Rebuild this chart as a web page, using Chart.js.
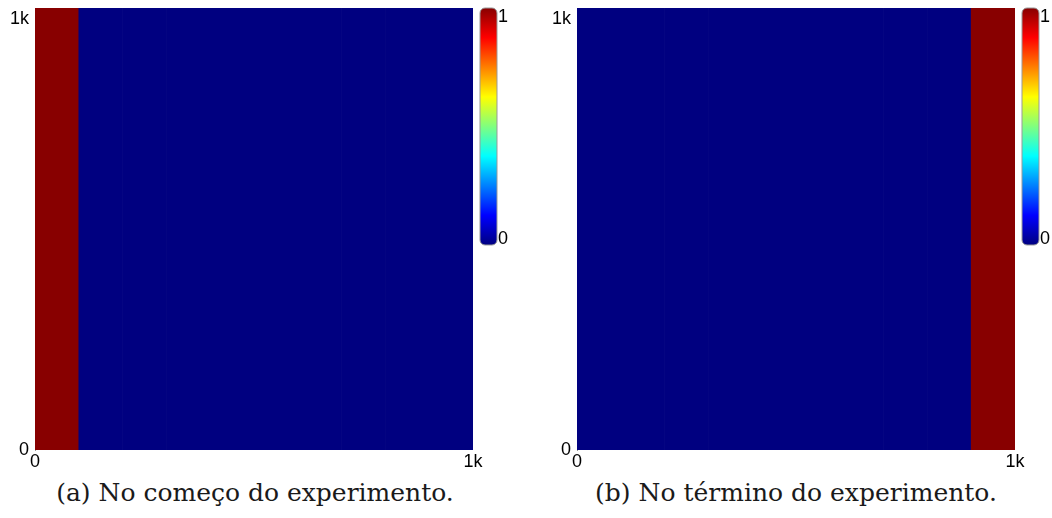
<!DOCTYPE html>
<html>
<head>
<meta charset="utf-8">
<script src="https://cdn.jsdelivr.net/npm/chart.js@4.4.1/dist/chart.umd.min.js"></script>
<style>
  body { margin: 0; background: #fff; width: 1052px; height: 518px; position: relative; overflow: hidden; }
  .panel { position: absolute; top: 0; width: 526px; height: 475px; }
  .caption { position: absolute; top: 476px; width: 526px; text-align: center;
             font-family: "DejaVu Serif", serif; font-size: 25px; line-height: 33px; color: #1a1a1a; }
</style>
</head>
<body>
<div class="panel" style="left:0"><canvas id="startChart" width="526" height="475"></canvas></div>
<div class="panel" style="left:542px"><canvas id="endChart" width="526" height="475"></canvas></div>
<div class="caption" style="left:-8px">(a) No começo do experimento.</div>
<div class="caption" style="left:533px">(b) No término do experimento.</div>
<script>
// grid columns (center of each 100-wide column) and their values
const columnCenters = [50, 150, 250, 350, 450, 550, 650, 750, 850, 950];
const startValues = [1, 0, 0, 0, 0, 0, 0, 0, 0, 0];
const endValues   = [0, 0, 0, 0, 0, 0, 0, 0, 0, 1];
const axisTicks = [0, 1000];
const axisTickLabels = ['0', '1k'];
const colorbarTicks = [0, 1];

// jet colormap
const jetStops = [
  [0.0,   [0, 0, 128]],
  [0.125, [0, 0, 255]],
  [0.375, [0, 255, 255]],
  [0.625, [255, 255, 0]],
  [0.875, [255, 0, 0]],
  [1.0,   [136, 0, 0]]
];
function jet(v) {
  for (let i = 1; i < jetStops.length; i++) {
    if (v <= jetStops[i][0]) {
      const a = jetStops[i - 1], b = jetStops[i];
      const t = (v - a[0]) / (b[0] - a[0]);
      const c = a[1].map((x, k) => Math.round(x + (b[1][k] - x) * t));
      return 'rgb(' + c.join(',') + ')';
    }
  }
  return 'rgb(136,0,0)';
}

const tickFont = { family: 'Liberation Sans', size: 18 };

// colorbar to the right of the plot area
const colorbarPlugin = {
  id: 'colorbar',
  afterDraw(chart) {
    const ctx = chart.ctx, area = chart.chartArea;
    const x = area.right + 7, w = 17, top = area.top, h = 237;
    const grad = ctx.createLinearGradient(0, top + h, 0, top);
    jetStops.forEach(s => grad.addColorStop(s[0], jet(s[0])));
    ctx.save();
    ctx.beginPath();
    ctx.roundRect(x, top, w, h, 5);
    ctx.fillStyle = grad;
    ctx.fill();
    ctx.strokeStyle = '#999';
    ctx.lineWidth = 1;
    ctx.stroke();
    ctx.fillStyle = '#000';
    ctx.font = '18px "Liberation Sans"';
    ctx.textAlign = 'left';
    ctx.textBaseline = 'top';
    ctx.fillText(String(colorbarTicks[1]), x + w + 1, top);
    ctx.textBaseline = 'bottom';
    ctx.fillText(String(colorbarTicks[0]), x + w + 1, top + h + 3);
    ctx.restore();
  }
};

function makeChart(id, values) {
  return new Chart(document.getElementById(id), {
    type: 'bar',
    data: {
      datasets: [{
        data: columnCenters.map(c => ({ x: c, y: [0, 1000] })),
        backgroundColor: values.map(v => jet(v)),
        borderWidth: 0,
        barPercentage: 1,
        categoryPercentage: 1
      }]
    },
    options: {
      responsive: false,
      animation: false,
      layout: { padding: { top: 8, right: 53, left: 0, bottom: 0 } },
      plugins: { legend: { display: false }, tooltip: { enabled: false } },
      scales: {
        x: {
          type: 'linear', min: 0, max: 1000, offset: false,
          grid: { display: false, drawTicks: false },
          border: { display: false },
          afterBuildTicks: s => { s.ticks = axisTicks.map(v => ({ value: v })); },
          afterFit: s => { s.height = 25; s.paddingLeft = 0; s.paddingRight = 0; },
          ticks: {
            font: tickFont, color: '#000', padding: 1, maxRotation: 0,
            callback: v => axisTickLabels[axisTicks.indexOf(v)]
          }
        },
        y: {
          type: 'linear', min: 0, max: 1000,
          grid: { display: false, drawTicks: false },
          border: { display: true, color: '#999', width: 1 },
          afterBuildTicks: s => { s.ticks = axisTicks.map(v => ({ value: v })); },
          afterFit: s => { s.width = 35; s.paddingTop = 0; s.paddingBottom = 0; },
          ticks: {
            font: tickFont, color: '#000', padding: 6,
            // top label pushed down inside the plot height with an empty first line
            callback: (v, i) => {
              const label = axisTickLabels[axisTicks.indexOf(v)];
              return i === axisTicks.length - 1 ? ['', label] : label;
            }
          }
        }
      }
    },
    plugins: [colorbarPlugin]
  });
}

makeChart('startChart', startValues);
makeChart('endChart', endValues);
</script>
</body>
</html>
